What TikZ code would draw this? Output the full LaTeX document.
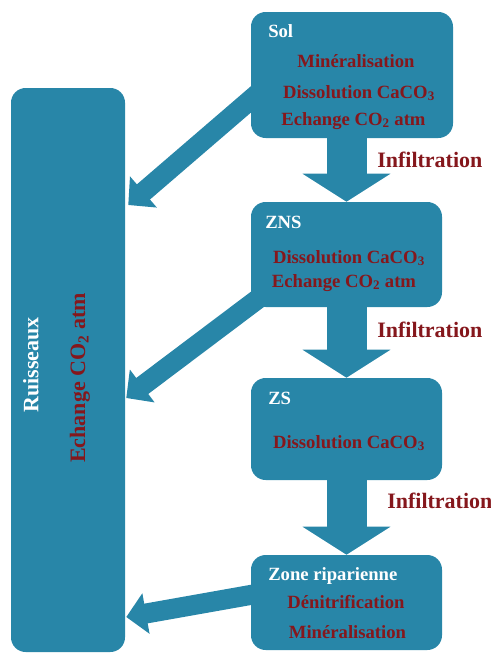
\documentclass[tikz,border=0pt]{standalone}
\usepackage{fontspec}
\setmainfont{Liberation Serif}
\usetikzlibrary{arrows.meta,backgrounds}
\definecolor{boxblue}{HTML}{2886A8}
\definecolor{txtred}{HTML}{85171C}
\tikzset{
  zone/.style={fill=boxblue, rounded corners=11pt, inner sep=0pt},
  zonetitle/.style={anchor=base west, text=white, inner sep=0pt, font=\fontsize{14}{16}\selectfont\bfseries},
  proc/.style={anchor=base, text=txtred, inner sep=0pt, font=\fontsize{14}{16}\selectfont\bfseries},
  infil/.style={anchor=base west, text=txtred, inner sep=0pt, font=\fontsize{16.5}{18}\selectfont\bfseries},
  downflow/.style={draw=boxblue, line width=30pt, -{Triangle[width=65pt,length=21pt]}},
  sideflow/.style={draw=boxblue, line width=15pt, -{Triangle[width=30pt,length=15pt]}}
}
\begin{document}
\begin{tikzpicture}[x=0.75pt,y=-0.75pt]
        \useasboundingbox (0,0) rectangle (491,653);
        % boites
        \node[zone, minimum width=85.5pt, minimum height=423pt] (ruis) at (68,370) {};
        \node[zone, minimum width=151.5pt, minimum height=94.5pt] (sol) at (352,75) {};
        \node[zone, minimum width=143.25pt, minimum height=78.75pt] (zns) at (346.5,254.5) {};
        \node[zone, minimum width=143.25pt, minimum height=76.5pt] (zs) at (346.5,429) {};
        \node[zone, minimum width=143.25pt, minimum height=71.25pt] (zr) at (346.5,602.5) {};
        % textes
        \node[zonetitle] (solname) at (268,37) {Sol};
        \node[proc] (solmin) at (356,67) {Minéralisation};
        \node[proc] (soldis) at (359,98) {Dissolution CaCO\textsubscript{3}};
        \node[proc] (solech) at (353.5,125) {Echange CO\textsubscript{2} atm};

        \node[zonetitle] (znsname) at (265,228) {ZNS};
        \node[proc] (znsdis) at (349,263) {Dissolution CaCO\textsubscript{3}};
        \node[proc] (znsech) at (344,287) {Echange CO\textsubscript{2} atm};

        \node[zonetitle] (zsname) at (268,404) {ZS};
        \node[proc] (zsdis) at (349,448) {Dissolution CaCO\textsubscript{3}};

        \node[zonetitle] (zrname) at (268,580) {Zone riparienne};
        \node[proc] (zrden) at (346,608) {Dénitrification};
        \node[proc] (zrmin) at (347.5,638) {Minéralisation};

        \node[proc, anchor=center, text=white, rotate=90, font=\fontsize{16.5}{18}\selectfont\bfseries] (ruisname) at (31,365) {Ruisseaux};
        \node[proc, anchor=center, rotate=90, font=\fontsize{16.5}{18}\selectfont\bfseries] (ruisech) at (80,378) {Echange CO\textsubscript{2} atm};

        \node[infil] (infA) at (377,167) {Infiltration};
        \node[infil] (infB) at (377,337) {Infiltration};
        \node[infil] (infC) at (387,508) {Infiltration};
        % fleches
        \begin{scope}[on background layer]
        \draw[downflow] (zns.north |- sol.south) -- (zns.north);
        \draw[downflow] (zns.south) -- (zs.north);
        \draw[downflow] (zs.south) -- (zr.north);

        \draw[sideflow] ([shift={(39,-9)}]sol.west) -- ([shift={(3,-165)}]ruis.east);
        \draw[sideflow] ([shift={(39,20.5)}]zns.west) -- ([shift={(1,28)}]ruis.east);
        \draw[sideflow] ([shift={(39,-14.5)}]zr.west) -- ([shift={(1,247)}]ruis.east);
        \end{scope}
\end{tikzpicture}
\end{document}
